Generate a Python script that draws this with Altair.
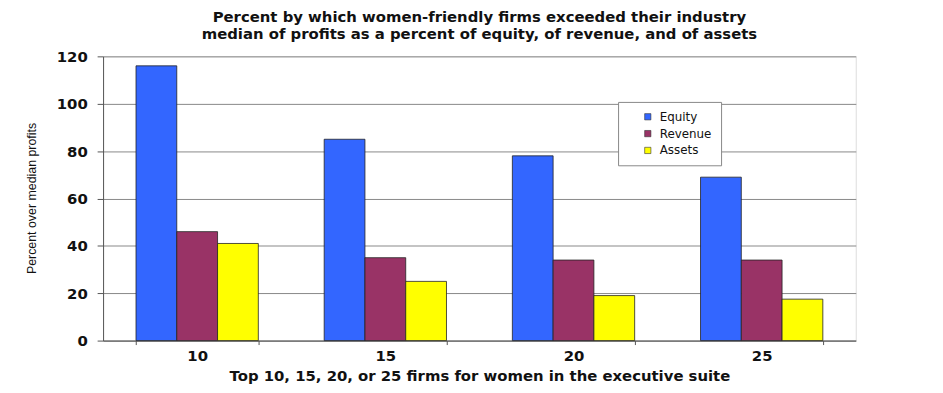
import altair as alt
import pandas as pd

groups = ["10", "15", "20", "25"]
series = ["Equity", "Revenue", "Assets"]
equity = [116, 85, 78, 69]
revenue = [46, 35, 34, 34]
assets = [41, 25, 19, 17.5]
colors = ["#3366FF", "#993366", "#FFFF00"]

rows = []
for name, vals in zip(series, [equity, revenue, assets]):
    for g, v in zip(groups, vals):
        rows.append({"group": g, "series": name, "value": v})
df = pd.DataFrame(rows)

bars = alt.Chart(df).mark_bar(stroke="#222222", strokeWidth=0.8).encode(
    x=alt.X("group:N", sort=groups,
            scale=alt.Scale(paddingInner=0.35, paddingOuter=0.175),
            axis=alt.Axis(title="Top 10, 15, 20, or 25 firms for women in the executive suite",
                          labelAngle=0, tickBand="extent", tickSize=4,
                          labelFont="DejaVu Sans", labelFontWeight="bold", labelFontSize=15,
                          labelColor="#111111", labelPadding=4,
                          titleFont="DejaVu Sans", titleFontWeight="bold", titleFontSize=15,
                          titleColor="#111111", titlePadding=5,
                          domainColor="#555555", tickColor="#555555")),
    xOffset=alt.XOffset("series:N", sort=series),
    y=alt.Y("value:Q",
            scale=alt.Scale(domain=[0, 120], nice=False),
            axis=alt.Axis(title="Percent over median profits", values=[0, 20, 40, 60, 80, 100, 120],
                          tickSize=6, labelPadding=10,
                          labelFont="DejaVu Sans", labelFontWeight="bold", labelFontSize=15,
                          labelColor="#111111",
                          titleFont="Liberation Sans", titleFontWeight="normal", titleFontSize=12.5,
                          titleColor="#111111", titleX=-72, titleY=143, titleAngle=-90,
                          titleAlign="center", titleBaseline="middle",
                          gridColor="#888888", gridWidth=1,
                          domainColor="#555555", tickColor="#555555")),
    color=alt.Color("series:N", sort=series,
                    scale=alt.Scale(domain=series, range=colors),
                    legend=alt.Legend(title=None, orient="none", legendX=520, legendY=46,
                                      symbolType="square", symbolSize=40, symbolOffset=15,
                                      symbolStrokeColor="#333333", symbolStrokeWidth=0.6,
                                      labelFont="DejaVu Sans", labelFontSize=12,
                                      labelColor="#111111", rowPadding=5, labelOffset=6,
                                      padding=9, strokeColor="#888888", fillColor="white",
                                      labelLimit=200)),
)

chart = bars.properties(
    width=760,
    height=287,
    title=alt.Title(["Percent by which women-friendly firms exceeded their industry",
                     "median of profits as a percent of equity, of revenue, and of assets"],
                    font="DejaVu Sans", fontSize=15, fontWeight="bold", color="#111111",
                    lineHeight=17, anchor="middle", offset=8),
    padding={"left": 96, "top": 47, "right": 80, "bottom": 42},
    autosize="none",
).configure_view(stroke="#999999", strokeWidth=1).configure(background="white")

chart.save("out.html", embed_options={"renderer": "svg", "actions": False})
